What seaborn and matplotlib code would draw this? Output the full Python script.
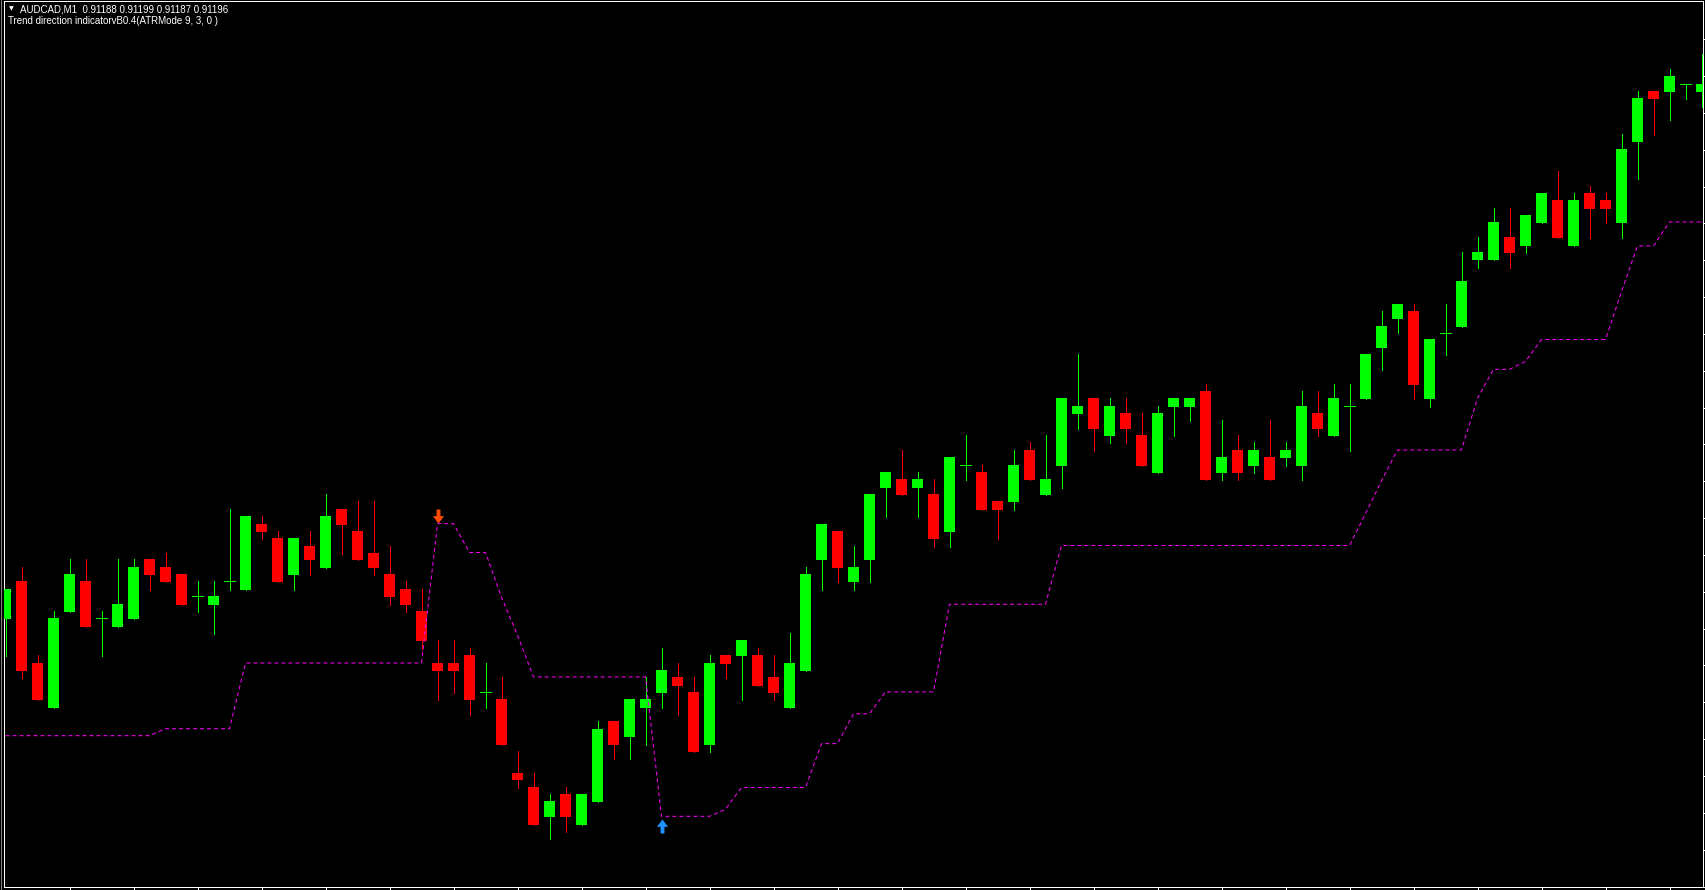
import numpy as np
import pandas as pd
import matplotlib
matplotlib.use("Agg")
import matplotlib.pyplot as plt
import seaborn as sns
from matplotlib.path import Path
from matplotlib.lines import Line2D

# ---------------- data ----------------
symbol_header = "AUDCAD,M1  0.91188 0.91199 0.91187 0.91196"
indicator_header = "Trend direction indicatorvB0.4(ATRMode 9, 3, 0 )"

opens = [0.90658, 0.90696, 0.90614, 0.90569, 0.90665, 0.90696, 0.90659, 0.90650, 0.90658, 0.90718,
         0.90710, 0.90703, 0.90681, 0.90672, 0.90696, 0.90687, 0.90754, 0.90740, 0.90702, 0.90732,
         0.90709, 0.90769, 0.90747, 0.90725, 0.90703, 0.90688, 0.90666, 0.90614, 0.90614, 0.90622,
         0.90585, 0.90578, 0.90504, 0.90489, 0.90459, 0.90482, 0.90451, 0.90474, 0.90556, 0.90540,
         0.90569, 0.90584, 0.90600, 0.90585, 0.90532, 0.90622, 0.90621, 0.90622, 0.90600, 0.90569,
         0.90606, 0.90717, 0.90747, 0.90695, 0.90717, 0.90790, 0.90799, 0.90790, 0.90784, 0.90746,
         0.90813, 0.90806, 0.90777, 0.90776, 0.90828, 0.90783, 0.90812, 0.90864, 0.90880, 0.90842,
         0.90865, 0.90843, 0.90805, 0.90871, 0.90871, 0.90887, 0.90805, 0.90828, 0.90812, 0.90821,
         0.90820, 0.90812, 0.90865, 0.90842, 0.90872, 0.90879, 0.90930, 0.90960, 0.90968, 0.90879,
         0.90946, 0.90952, 0.91019, 0.91019, 0.91042, 0.91033, 0.91056, 0.91079, 0.91033, 0.91086,
         0.91079, 0.91056, 0.91137, 0.91189, 0.91188, 0.91196, 0.91188]

highs = [0.90688, 0.90710, 0.90622, 0.90666, 0.90718, 0.90718, 0.90666, 0.90718, 0.90718, 0.90718,
         0.90725, 0.90703, 0.90696, 0.90696, 0.90769, 0.90762, 0.90762, 0.90747, 0.90740, 0.90747,
         0.90784, 0.90769, 0.90777, 0.90777, 0.90732, 0.90696, 0.90688, 0.90637, 0.90637, 0.90629,
         0.90614, 0.90600, 0.90526, 0.90504, 0.90482, 0.90489, 0.90482, 0.90556, 0.90556, 0.90578,
         0.90600, 0.90629, 0.90614, 0.90600, 0.90622, 0.90622, 0.90637, 0.90629, 0.90622, 0.90644,
         0.90710, 0.90754, 0.90747, 0.90732, 0.90784, 0.90806, 0.90828, 0.90806, 0.90799, 0.90821,
         0.90843, 0.90813, 0.90777, 0.90828, 0.90836, 0.90843, 0.90880, 0.90924, 0.90880, 0.90880,
         0.90880, 0.90865, 0.90872, 0.90880, 0.90880, 0.90894, 0.90858, 0.90843, 0.90836, 0.90858,
         0.90836, 0.90887, 0.90887, 0.90894, 0.90894, 0.90924, 0.90968, 0.90975, 0.90975, 0.90939,
         0.90975, 0.91027, 0.91042, 0.91071, 0.91071, 0.91064, 0.91086, 0.91108, 0.91086, 0.91093,
         0.91086, 0.91145, 0.91189, 0.91189, 0.91211, 0.91196, 0.91226]

lows = [0.90621, 0.90599, 0.90577, 0.90569, 0.90665, 0.90650, 0.90621, 0.90650, 0.90658, 0.90687,
        0.90695, 0.90672, 0.90665, 0.90643, 0.90687, 0.90687, 0.90739, 0.90695, 0.90687, 0.90702,
        0.90709, 0.90724, 0.90717, 0.90702, 0.90672, 0.90665, 0.90628, 0.90577, 0.90584, 0.90562,
        0.90569, 0.90532, 0.90488, 0.90451, 0.90437, 0.90444, 0.90451, 0.90474, 0.90518, 0.90518,
        0.90532, 0.90569, 0.90562, 0.90525, 0.90525, 0.90599, 0.90577, 0.90591, 0.90577, 0.90569,
        0.90606, 0.90687, 0.90695, 0.90687, 0.90695, 0.90761, 0.90783, 0.90761, 0.90731, 0.90731,
        0.90798, 0.90768, 0.90739, 0.90768, 0.90798, 0.90783, 0.90790, 0.90849, 0.90827, 0.90835,
        0.90835, 0.90812, 0.90805, 0.90842, 0.90857, 0.90798, 0.90798, 0.90798, 0.90805, 0.90798,
        0.90812, 0.90798, 0.90842, 0.90842, 0.90827, 0.90879, 0.90908, 0.90945, 0.90879, 0.90871,
        0.90923, 0.90952, 0.91011, 0.91019, 0.91011, 0.91026, 0.91056, 0.91041, 0.91033, 0.91041,
        0.91056, 0.91041, 0.91100, 0.91144, 0.91159, 0.91181, 0.91173]

closes = [0.90688, 0.90606, 0.90577, 0.90659, 0.90703, 0.90650, 0.90659, 0.90673, 0.90710, 0.90702,
          0.90695, 0.90672, 0.90681, 0.90681, 0.90696, 0.90762, 0.90746, 0.90695, 0.90740, 0.90717,
          0.90762, 0.90753, 0.90717, 0.90709, 0.90680, 0.90672, 0.90636, 0.90606, 0.90606, 0.90577,
          0.90585, 0.90532, 0.90496, 0.90451, 0.90475, 0.90459, 0.90482, 0.90548, 0.90532, 0.90578,
          0.90578, 0.90607, 0.90591, 0.90525, 0.90614, 0.90613, 0.90637, 0.90591, 0.90584, 0.90614,
          0.90703, 0.90754, 0.90709, 0.90710, 0.90784, 0.90806, 0.90783, 0.90799, 0.90739, 0.90821,
          0.90813, 0.90768, 0.90768, 0.90813, 0.90798, 0.90799, 0.90880, 0.90872, 0.90849, 0.90872,
          0.90849, 0.90812, 0.90865, 0.90880, 0.90880, 0.90798, 0.90821, 0.90805, 0.90828, 0.90798,
          0.90828, 0.90872, 0.90849, 0.90880, 0.90872, 0.90924, 0.90953, 0.90975, 0.90893, 0.90939,
          0.90946, 0.90998, 0.91027, 0.91057, 0.91026, 0.91064, 0.91086, 0.91041, 0.91079, 0.91070,
          0.91070, 0.91130, 0.91182, 0.91181, 0.91204, 0.91196, 0.91196]

trend_line = [0.90541, 0.90541, 0.90541, 0.90541, 0.90541, 0.90541, 0.90541, 0.90541, 0.90541, 0.90541,
              0.90548, 0.90548, 0.90548, 0.90548, 0.90548, 0.90614, 0.90614, 0.90614, 0.90614, 0.90614,
              0.90614, 0.90614, 0.90614, 0.90614, 0.90614, 0.90614, 0.90614, 0.90754, 0.90754, 0.90725,
              0.90725, 0.90680, 0.90642, 0.90600, 0.90600, 0.90600, 0.90600, 0.90600, 0.90600, 0.90600,
              0.90600, 0.90460, 0.90460, 0.90460, 0.90460, 0.90467, 0.90489, 0.90489, 0.90489, 0.90489,
              0.90489, 0.90533, 0.90533, 0.90563, 0.90563, 0.90585, 0.90585, 0.90585, 0.90585, 0.90673,
              0.90673, 0.90673, 0.90673, 0.90673, 0.90673, 0.90673, 0.90732, 0.90732, 0.90732, 0.90732,
              0.90732, 0.90732, 0.90732, 0.90732, 0.90732, 0.90732, 0.90732, 0.90732, 0.90732, 0.90732,
              0.90732, 0.90732, 0.90732, 0.90732, 0.90732, 0.90764, 0.90797, 0.90828, 0.90828, 0.90828,
              0.90828, 0.90828, 0.90880, 0.90909, 0.90909, 0.90917, 0.90939, 0.90939, 0.90939, 0.90939,
              0.90939, 0.90987, 0.91033, 0.91033, 0.91057, 0.91057, 0.91057]

sell_signal_bar = [27]
sell_signal_price = [0.90762]
buy_signal_bar = [41]
buy_signal_price = [0.90450]

# ---------------- styling ----------------
W, H = 1705, 890
BULL = "#00FF00"
BEAR = "#FF0000"
LINE = "#FF00FF"
SELL = "#FF4A00"
BUY = "#1E90FF"

sns.set_theme(style="dark")
plt.rcParams["font.family"] = ["Liberation Sans", "DejaVu Sans"]
plt.rcParams["axes.facecolor"] = "black"
plt.rcParams["figure.facecolor"] = "black"

df = pd.DataFrame({"open": opens, "high": highs, "low": lows, "close": closes,
                   "trend": trend_line})
df["bar"] = np.arange(len(df))
df["bull"] = df["close"] >= df["open"]

fig = plt.figure(figsize=(W / 100, H / 100), dpi=100)
ax_left, ax_right, ax_top, ax_bot = 3.5, 1702.5, 0.5, 886.5
ax = fig.add_axes([ax_left / W, (H - ax_bot) / H, (ax_right - ax_left) / W, (ax_bot - ax_top) / H])
ax.set_facecolor("black")

px = 0.72  # one pixel in points
body_w = 11 / 16

colors = np.where(df["bull"], BULL, BEAR)

# wicks
ax.vlines(df["bar"], df["low"], df["high"], colors=colors, linewidth=px, antialiased=False, zorder=2)

# bodies
body_bottom = np.minimum(df["open"], df["close"])
body_height = np.abs(df["close"] - df["open"])
nonzero = body_height > 0
ax.bar(df["bar"][nonzero], body_height[nonzero], bottom=body_bottom[nonzero], width=body_w,
       color=colors[nonzero.values], linewidth=0, antialiased=False, zorder=3)
# doji bars
dj = df[~nonzero]
ax.hlines(dj["open"], dj["bar"] - body_w / 2, dj["bar"] + body_w / 2,
          colors=np.where(dj["bull"], BULL, BEAR), linewidth=px, antialiased=False, zorder=3)

# trend line
sns.lineplot(data=df, x="bar", y="trend", ax=ax, color=LINE, linewidth=px,
             linestyle=(0, (4, 3)), zorder=4, legend=False)
# extend to right border
ax.plot([df["bar"].iloc[-1], df["bar"].iloc[-1] + 1], [trend_line[-1], trend_line[-1]],
        color=LINE, linewidth=px, linestyle=(0, (4, 3)), zorder=4)

# arrow markers
down_arrow = Path([(-0.28, 1.0), (0.28, 1.0), (0.28, 0.05), (0.8, 0.05), (0.0, -1.0),
                   (-0.8, 0.05), (-0.28, 0.05), (-0.28, 1.0)],
                  [Path.MOVETO] + [Path.LINETO] * 6 + [Path.CLOSEPOLY])
up_arrow = Path([(x, -y) for x, y in down_arrow.vertices], down_arrow.codes)
ax.scatter(sell_signal_bar, sell_signal_price, marker=down_arrow, s=(14 / 1.389) ** 2,
           color=SELL, linewidths=0, zorder=5)
ax.scatter(buy_signal_bar, buy_signal_price, marker=up_arrow, s=(14 / 1.389) ** 2,
           color=BUY, linewidths=0, zorder=5)

# scales
n = len(df)
ax.set_xlim((ax_left - 5.5) / 16, (ax_right - 5.5) / 16)
ax.set_ylim(0.91280 - ax_bot / 1e5, 0.91280 - ax_top / 1e5)
ax.set_xlabel("")
ax.set_ylabel("")
ax.grid(False)

ax.set_xticks(np.arange(4, n, 4))
ax.set_yticks(0.91280 - (39.5 + 37 * np.arange(0, 24)) / 1e5)
ax.tick_params(axis="x", which="both", bottom=True, top=False, direction="out", length=2.3,
               width=px, color="white", labelbottom=False)
ax.tick_params(axis="y", which="both", left=False, right=True, direction="out", length=2.3,
               width=px, color="white", labelleft=False, labelright=False)
for s in ax.spines.values():
    s.set_color("white")
    s.set_linewidth(px)
    s.set_visible(True)

# window edge line
fig.add_artist(Line2D([0.5 / W, 0.5 / W], [0, 1], color="#808080", linewidth=px, transform=fig.transFigure))

# header texts
fig.text(9 / W, 1 - 8.5 / H, "▼", color="white", fontsize=4.5, va="center", ha="left",
         family=["DejaVu Sans"])
fig.text(20.5 / W, 1 - 9.5 / H, symbol_header, color="white", fontsize=7, va="center", ha="left")
fig.text(8.5 / W, 1 - 21.5 / H, indicator_header, color="white", fontsize=7, va="center", ha="left")

fig.savefig("out.png", dpi=100, facecolor="black")
